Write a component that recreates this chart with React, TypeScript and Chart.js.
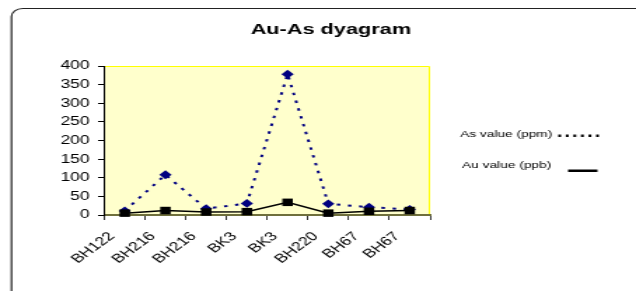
import React, { useEffect, useRef } from "react";
import { Chart, registerables } from "chart.js";

Chart.register(...registerables);

const categories = ["BH122", "BH216", "BH216", "BK3", "BK3", "BH220", "BH67", "BH67"];
const asValues = [11, 108, 17, 31, 378, 30, 21, 15];
const auValues = [5, 12, 8, 9, 34, 5, 10, 12];
const yTicks = [0, 50, 100, 150, 200, 250, 300, 350, 400];
const titleText = "Au-As dyagram";
const asLabel = "As value (ppm)";
const auLabel = "Au value (ppb)";

const W = 454; // bitmap width, stretched to 636 on screen
const H = 291;
const FONT = "'Liberation Sans', Arial, sans-serif";

export default function App() {
  const ref = useRef<HTMLCanvasElement>(null);
  useEffect(() => {
    const canvas = ref.current!;
    const decor = {
      id: "decor",
      beforeDraw(chart: any) {
        const ctx = chart.ctx;
        const a = chart.chartArea;
        ctx.save();
        ctx.fillStyle = "#ffffff";
        ctx.fillRect(0, 0, W, H);
        // outer rounded frame
        ctx.strokeStyle = "#222222";
        ctx.lineWidth = 1.2;
        ctx.beginPath();
        (ctx as any).roundRect(8.2, 8.5, 600, 400, 8);
        ctx.stroke();
        // plot background
        ctx.fillStyle = "#ffffcc";
        ctx.fillRect(a.left, a.top, a.right - a.left, a.bottom - a.top);
        ctx.strokeStyle = "#ffff00";
        ctx.lineWidth = 1;
        ctx.beginPath();
        ctx.moveTo(a.left, a.top + 0.5);
        ctx.lineTo(a.right - 0.5, a.top + 0.5);
        ctx.lineTo(a.right - 0.5, a.bottom);
        ctx.stroke();
        // title
        ctx.fillStyle = "#000000";
        ctx.font = `bold 15.5px ${FONT}`;
        ctx.textAlign = "center";
        ctx.textBaseline = "middle";
        ctx.fillText(titleText, 236.2, 29.5);
        // legend
        ctx.font = `9.8px ${FONT}`;
        ctx.textAlign = "left";
        ctx.fillText(asLabel, 328.4, 134);
        ctx.fillText(auLabel, 329.8, 165);
        for (let i = 0; i < 6; i++) {
          ctx.fillRect(398.5 + i * 5.4, 134.5, 2, 2.5);
        }
        ctx.fillRect(405.5, 169.5, 21, 2.5);
        ctx.restore();
      },
    };
    const chart = new Chart(canvas, {
      type: "line",
      data: {
        labels: categories,
        datasets: [
          {
            label: auLabel,
            data: auValues,
            borderColor: "#000000",
            backgroundColor: "#000000",
            borderWidth: 1.5,
            pointStyle: "rect",
            pointRadius: 5.3,
            pointBorderWidth: 0,
            tension: 0,
            clip: false as any,
          },
          {
            label: asLabel,
            data: asValues,
            borderColor: "#000080",
            backgroundColor: "#000080",
            borderWidth: 2,
            borderDash: [2.5, 5.5],
            pointStyle: "rectRot",
            pointRadius: 4.4,
            pointBorderWidth: 0,
            tension: 0,
            clip: false as any,
          },
        ],
      },
      options: {
        responsive: false,
        animation: false,
        devicePixelRatio: 1,
        layout: { padding: { left: 0, right: W - 307, top: 66, bottom: 0 } },
        plugins: {
          legend: { display: false },
          title: { display: false },
          tooltip: { enabled: false },
        },
        scales: {
          x: {
            type: "category",
            offset: true,
            grid: {
              offset: true,
              drawOnChartArea: false,
              drawTicks: true,
              tickLength: 5,
              color: "#333333",
            },
            border: { color: "#6f6f3c", width: 2 },
            ticks: {
              autoSkip: false,
              maxRotation: 45,
              minRotation: 45,
              labelOffset: -9,
              padding: 9,
              color: "#000000",
              font: { family: FONT, size: 12.5 },
            },
            afterFit(scale: any) {
              scale.height = 76;
            },
          },
          y: {
            min: 0,
            max: 400,
            afterBuildTicks(scale: any) {
              scale.ticks = yTicks.map((v) => ({ value: v }));
            },
            grid: {
              drawOnChartArea: false,
              drawTicks: true,
              tickLength: 4.5,
              color: "#000000",
            },
            border: { color: "#000000", width: 1 },
            ticks: {
              padding: 6,
              color: "#000000",
              font: { family: FONT, size: 12.5 },
            },
            afterFit(scale: any) {
              scale.width = 74.5;
            },
          },
        },
      },
      plugins: [decor],
    });
    return () => chart.destroy();
  }, []);
  return (
    <canvas
      ref={ref}
      width={W}
      height={H}
      style={{ position: "fixed", left: 0, top: 0, width: "636px", height: "291px", display: "block" }}
    />
  );
}
